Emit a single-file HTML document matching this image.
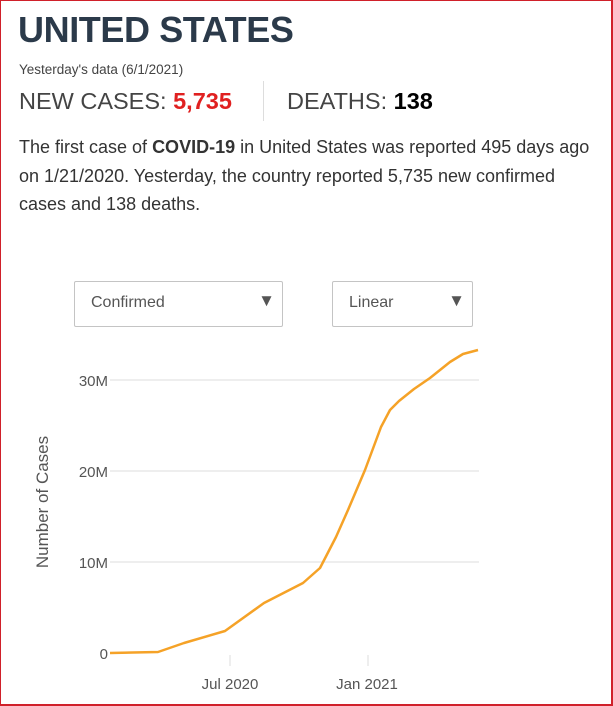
<!DOCTYPE html>
<html><head><meta charset="utf-8"><style>
html,body{margin:0;padding:0;background:#fff;}
body{width:613px;height:706px;position:relative;overflow:hidden;font-family:"Liberation Sans",sans-serif;}
.frame{position:absolute;left:0;top:0;width:610px;height:703px;border:1px solid #d0202a;border-right-width:2px;border-bottom-width:2px;}
.t{position:absolute;white-space:nowrap;}
.sel{position:absolute;border:1px solid #c4c4c4;border-radius:2px;box-sizing:border-box;}
</style></head><body>
<div class="frame"></div>
<div class="t" style="left:18px;top:9px;font-size:36px;font-weight:bold;color:#2b3a4a;letter-spacing:-0.4px">UNITED STATES</div>
<div class="t" style="left:19px;top:62px;font-size:13.5px;color:#444;">Yesterday's data (6/1/2021)</div>
<div class="t" style="left:19px;top:88px;font-size:23.5px;color:#444;">NEW CASES: <b style="color:#e02020">5,735</b></div>
<div style="position:absolute;left:263px;top:81px;width:1px;height:40px;background:#ddd"></div>
<div class="t" style="left:287px;top:88px;font-size:23.5px;color:#444;">DEATHS: <b style="color:#000">138</b></div>
<div class="t" style="left:19px;top:133px;font-size:18px;line-height:28.5px;color:#333;white-space:normal;width:575px;">The first case of <b style="font-weight:600">COVID-19</b> in United States was reported 495 days ago on 1/21/2020. Yesterday, the country reported 5,735 new confirmed cases and 138 deaths.</div>
<div class="sel" style="left:74px;top:281px;width:209px;height:46px;"><span class="t" style="left:16px;top:12px;font-size:16px;color:#555">Confirmed</span><span class="t" style="right:7px;top:9px;font-size:17px;color:#555">▼</span></div>
<div class="sel" style="left:332px;top:281px;width:141px;height:46px;"><span class="t" style="left:16px;top:12px;font-size:16px;color:#555">Linear</span><span class="t" style="right:7px;top:9px;font-size:17px;color:#555">▼</span></div>
<svg width="613" height="706" style="position:absolute;left:0;top:0" font-family="Liberation Sans, sans-serif">
<g stroke="#e8e8e8" stroke-width="1.5">
<line x1="110" y1="380" x2="479" y2="380"/><line x1="110" y1="471" x2="479" y2="471"/><line x1="110" y1="562" x2="479" y2="562"/>
<line x1="230" y1="655" x2="230" y2="666"/><line x1="368" y1="655" x2="368" y2="666"/>
</g>
<g fill="#555" font-size="15" text-anchor="end">
<text x="108" y="386">30M</text><text x="108" y="477">20M</text><text x="108" y="568">10M</text><text x="108" y="659">0</text>
</g>
<g fill="#555" font-size="15" text-anchor="middle">
<text x="230" y="689">Jul 2020</text><text x="367" y="689">Jan 2021</text>
</g>
<text transform="translate(48,502) rotate(-90)" fill="#555" font-size="17" text-anchor="middle">Number of Cases</text>
<polyline fill="none" stroke="#f5a227" stroke-width="2.5" stroke-linejoin="round" points="110,653 158,652 184,643 225,631 264,603 303,583 320,568 336,537 348,510 365,470 381,427 390,410 399,401 414,389 430,378 450,362 463,354 478,350"/>
</svg>
</body></html>
